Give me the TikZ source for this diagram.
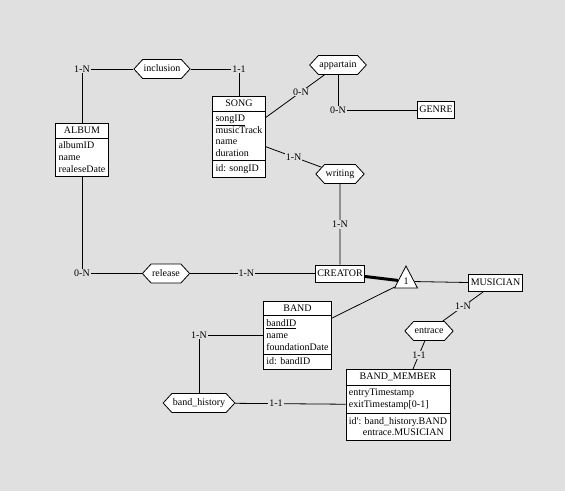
\documentclass[tikz,border=0pt]{standalone}
\usepackage{fontspec}
\setmainfont{Liberation Serif}
\usetikzlibrary{shapes.multipart}
\usetikzlibrary{shapes.symbols}
\usetikzlibrary{shapes.geometric}
\definecolor{bgcol}{RGB}{224,224,224}
\newcommand{\erfont}{\fontsize{10}{11.7}\selectfont}

\begin{document}
\begin{tikzpicture}[x=1pt,y=-1pt,font=\erfont,line width=0.8pt,
  entity/.style={draw,fill=white,rectangle split,rectangle split parts=#1,
    rectangle split part align={center,left,left},align=left,
    inner xsep=3pt,inner ysep=3.5pt,anchor=north},
  box/.style={draw,fill=white,inner xsep=2pt,inner ysep=4pt,text height=7pt,text depth=2pt},
  rel/.style={draw,fill=white,signal,signal to=west and east,signal pointer angle=95,
    inner xsep=1pt,inner ysep=5pt,text height=7pt,text depth=2pt},
  isa/.style={draw,fill=white,isosceles triangle,shape border rotate=90,
    isosceles triangle stretches,minimum width=23pt,minimum height=22pt,inner sep=0pt,anchor=apex},
  card/.style={fill=bgcol,inner sep=1pt}]
\fill[bgcol] (0,0) rectangle (565,491);

\node[entity=2] (album) at (82,123) {ALBUM\nodepart{two}albumID\\name\\realeseDate};
\node[entity=3] (song) at (239,96) {SONG\nodepart{two}\underline{songID}\\musicTrack\\name\\duration\nodepart{three}id: songID};
\node[entity=3] (band) at (297.5,301) {BAND\nodepart{two}\underline{bandID}\\name\\foundationDate\nodepart{three}id: bandID};
\node[entity=3] (bm) at (398,369) {BAND\_MEMBER\nodepart{two}entryTimestamp\\exitTimestamp[0-1]\nodepart{three}id\textquotesingle: band\_history.BAND\\\hspace*{14pt}entrace.MUSICIAN};

\node[box] (genre) at (436,110) {GENRE};
\node[box] (creator) at (340,273.5) {CREATOR};
\node[box] (musician) at (495.5,283) {MUSICIAN};
\node[isa] (isa) at (406,265) {1};

\node[rel] (inclusion) at (162,69) {inclusion};
\node[rel] (appartain) at (338,65) {appartain};
\node[rel] (writing) at (340,174) {writing};
\node[rel] (release) at (166,273.5) {release};
\node[rel] (entrace) at (429,331) {entrace};
\node[rel] (bh) at (199,403) {band\_history};

\draw (album) |- node[card] {1-N} (inclusion);
\draw (inclusion) -| node[card] {1-1} (song);
\draw (song) -- node[card,pos=.6] {0-N} (appartain);
\draw (appartain) |- node[card] {0-N} (genre);
\draw (song) -- node[card] {1-N} (writing);
\draw (writing) -- node[card] {1-N} (creator);
\draw (album) |- node[card] {0-N} (release);
\draw (release) -- node[card,pos=.45] {1-N} (creator);
\draw[line width=3pt] (creator) -- (isa);
\draw (band) -- (isa);
\draw (isa) -- (musician);
\draw (musician) -- node[card] {1-N} (entrace);
\draw (entrace) -- node[card] {1-1} (bm);
\draw (band) -| node[card] {1-N} (bh);
\draw (bh) -- node[card,pos=.37] {1-1} (bm);
\end{tikzpicture}
\end{document}
